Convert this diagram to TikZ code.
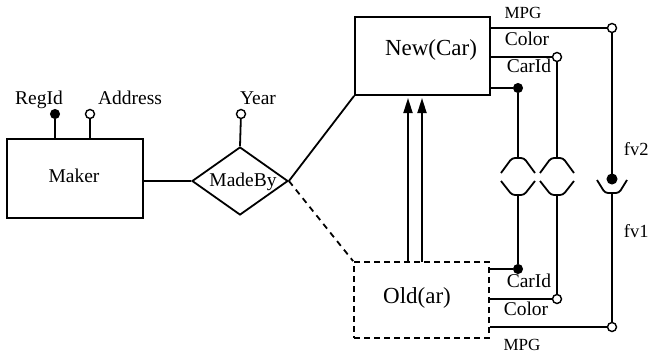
\documentclass[tikz,border=0pt]{standalone}
\usepackage{fontspec}
\setmainfont{Liberation Serif}
\usetikzlibrary{shapes.geometric,arrows.meta}
\begin{document}
\begin{tikzpicture}[x=1pt,y=-1pt, line width=1.8pt,
  ent/.style={draw, rectangle, inner sep=0pt},
  rel/.style={draw, diamond, inner sep=0pt, minimum width=96pt, minimum height=68pt},
  txt/.style={inner sep=0pt, anchor=base, font=\fontsize{19.5}{20}\selectfont},
  big/.style={txt, font=\fontsize{23}{24}\selectfont},
  small/.style={txt, font=\fontsize{17}{18}\selectfont},
  fvlab/.style={txt, anchor=base west, font=\fontsize{18.5}{19}\selectfont},
  keydot/.style={circle, fill=black, draw, inner sep=0pt, minimum size=9pt, line width=1pt},
  opendot/.style={circle, fill=white, draw, inner sep=0pt, minimum size=9pt, line width=1.4pt},
  dbl/.style={-{Triangle[width=9pt,length=15pt]}},
  fdep/.style={rounded corners=3pt},
]
\useasboundingbox (0,0) rectangle (650,354);

% entities and relationship
\node[ent, minimum width=136pt, minimum height=79pt] (maker) at (75,178.5) {};
\node[txt] (makert) at (74,182) {Maker};
\node[rel] (madeby) at (240,181) {};
\node[txt] (madebyt) at (243,186) {MadeBy};
\node[ent, minimum width=135pt, minimum height=78pt] (new) at (422.5,56) {};
\node[big] (newt) at (431,55) {New(Car)};
\node[ent, dashed, dash pattern=on 6pt off 4pt, minimum width=135pt, minimum height=76pt] (old) at (421.5,300) {};
\node[big] (oldt) at (417,303) {Old(ar)};

% connectors
\draw (madeby.west) -- (madeby.west -| maker.east);
\draw (madeby.east) -- (new.south west);
\draw[dash pattern=on 6pt off 5pt] (madeby.east) -- (old.north west);

% Maker / MadeBy attributes
\node[keydot] (rid) at (55,114) {};
\node[opendot] (addr) at (90,114) {};
\node[opendot] (year) at (241,114) {};
\draw (rid) -- (rid |- maker.north);
\draw (addr) -- (addr |- maker.north);
\draw (year) -- (madeby.north);
\node[txt] (ridt) at (39,104) {RegId};
\node[txt] (addrt) at (130,104) {Address};
\node[txt] (yeart) at (258,104) {Year};

% isa arrows
\coordinate (a1b) at (408,262);
\coordinate (a1t) at (408,98);
\coordinate (a2b) at (422,262);
\coordinate (a2t) at (422,98);
\draw[dbl] (a1b) -- (a1t);
\draw[dbl] (a2b) -- (a2t);

% New attributes
\node[opendot] (nmpg) at (612,28) {};
\node[opendot] (ncol) at (557,57) {};
\node[keydot] (nkey) at (518,88) {};
\draw (new.east |- nmpg) -- (nmpg);
\draw (new.east |- ncol) -- (ncol);
\draw (new.east |- nkey) -- (nkey);
\node[small] (nmpgt) at (523,18) {MPG};
\node[txt] (ncolt) at (527,45) {Color};
\node[txt] (nkeyt) at (529,72) {CarId};

% Old attributes
\node[keydot] (okey) at (518,269) {};
\node[opendot] (ocol) at (557,299) {};
\node[opendot] (ompg) at (612,327) {};
\draw (old.east |- okey) -- (okey);
\draw (old.east |- ocol) -- (ocol);
\draw (old.east |- ompg) -- (ompg);
\node[txt] (okeyt) at (529,287) {CarId};
\node[txt] (ocolt) at (526,315) {Color};
\node[small] (ompgt) at (522,350) {MPG};

% correspondence symbols
\coordinate (s1t) at (518,158);
\coordinate (s1b) at (518,195);
\coordinate (s2t) at (557,158);
\coordinate (s2b) at (557,195);
\draw[fdep] (501,173) -- (512,158) -- (524,158) -- (535,173);
\draw[fdep] (501,181) -- (512,195) -- (524,195) -- (535,181);
\draw[fdep] (540,173) -- (551,158) -- (563,158) -- (574,173);
\draw[fdep] (540,181) -- (551,195) -- (563,195) -- (574,181);
\draw (nkey) -- (s1t);
\draw (s1b) -- (okey);
\draw (ncol) -- (s2t);
\draw (s2b) -- (ocol);

% fv symbol
\node[keydot, minimum size=10pt] (fvdot) at (612,179) {};
\coordinate (fvb) at (612,193);
\draw[fdep] (597,180) -- (605,193) -- (619,193) -- (627,180);
\draw (nmpg) -- (fvdot);
\draw (fvb) -- (ompg);
\node[fvlab] (fv2) at (623,155) {fv2};
\node[fvlab] (fv1) at (623,237) {fv1};
\end{tikzpicture}
\end{document}
